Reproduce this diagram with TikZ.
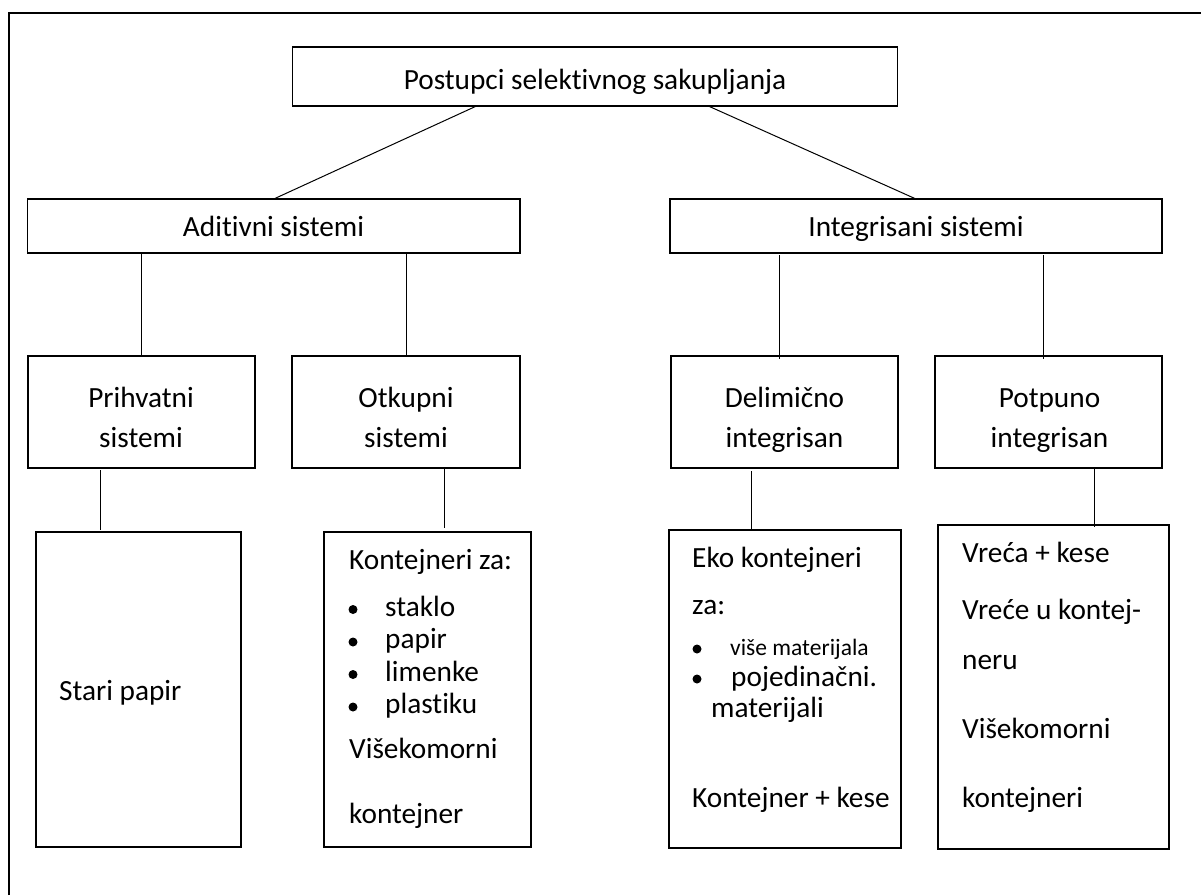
\documentclass[tikz,border=0pt]{standalone}
\usepackage{fontspec}
\setmainfont{Carlito}[Ligatures=NoCommon]
\usetikzlibrary{calc}
\begin{document}
\begin{tikzpicture}[x=1pt,y=-1pt,
  box/.style={draw, line width=1.3pt, rectangle, inner sep=0pt, outer sep=0pt},
  link/.style={line width=1pt},
  lbl/.style={anchor=base, inner sep=0pt, font=\fontsize{29.3}{34}\selectfont},
  lbll/.style={anchor=base west, inner sep=0pt, font=\fontsize{29.3}{34}\selectfont},
  small/.style={anchor=base west, inner sep=0pt, font=\fontsize{23.5}{28}\selectfont},
  dot/.style={circle, fill, inner sep=0pt, minimum size=9pt}]
\useasboundingbox (0,0) rectangle (1201,895);
% page frame (top and left edges)
\draw[line width=1.8pt] (9,895) -- (9,13) -- (1201,13);

% boxes
\node[box, minimum width=605pt, minimum height=59pt] (top) at (595,76.5) {};
\node[box, minimum width=492.5pt, minimum height=54pt] (add) at (273.75,226) {};
\node[box, minimum width=492pt, minimum height=54pt] (int) at (916,226) {};
\node[box, minimum width=227pt, minimum height=112pt] (pri) at (141.5,412) {};
\node[box, minimum width=228pt, minimum height=112pt] (otk) at (406,412) {};
\node[box, minimum width=227pt, minimum height=112pt] (del) at (784.5,412) {};
\node[box, minimum width=227pt, minimum height=112pt] (pot) at (1048.5,412) {};
\node[box, minimum width=205pt, minimum height=315pt] (sta) at (138.5,689.5) {};
\node[box, minimum width=207pt, minimum height=315pt] (kon) at (427.5,689.5) {};
\node[box, minimum width=232pt, minimum height=318pt] (eko) at (785,689) {};
\node[box, minimum width=231pt, minimum height=324pt] (vre) at (1053.5,687) {};

% connectors
\draw[link] ($(top.south)+(-118.5,0)$) -- (add.north);
\draw[link] ($(top.south)+(113.3,0)$) -- (int.north);
\draw[link] (add.south -| pri.north) -- (pri.north);
\draw[link] (add.south -| otk.north) -- (otk.north);
\draw[link] ($(int.south -| del.north)+(-5.5,2)$) -- ($(del.north)+(-5.5,3)$);
\draw[link] ($(int.south -| pot.north)+(-5.5,2)$) -- ($(pot.north)+(-5.5,3)$);
\draw[link] ($(pri.south)+(-41,2)$) -- ($(sta.north -| pri.south)+(-41,-2)$);
\draw[link] ($(otk.south)+(38,0)$) -- ($(kon.north -| otk.south)+(38,-4)$);
\draw[link] ($(del.south)+(-33.5,3)$) -- ($(eko.north -| del.south)+(-33.5,0)$);
\draw[link] ($(pot.south)+(45.5,0)$) -- ($(vre.north -| pot.south)+(45.5,2)$);

% labels
\node[lbl] (ttop) at (595,89) {Postupci selektivnog sakupljanja};
\node[lbl] (tadd) at (273.5,236) {Aditivni sistemi};
\node[lbl] (tint) at (916,236) {Integrisani sistemi};
\node[lbl] (tpri1) at (141,407) {Prihvatni};
\node[lbl] (tpri2) at (141,447) {sistemi};
\node[lbl] (totk1) at (406,407) {Otkupni};
\node[lbl] (totk2) at (406,447) {sistemi};
\node[lbl] (tdel1) at (784.5,407) {Delimično};
\node[lbl] (tdel2) at (784.5,447) {integrisan};
\node[lbl] (tpot1) at (1049.5,407) {Potpuno};
\node[lbl] (tpot2) at (1049.5,447) {integrisan};

\node[lbll] (tsta) at (59,700) {Stari papir};

\node[lbll] (tkon) at (349,569) {Kontejneri za:};
\node[dot] (b1) at (353,609.5) {};
\node[dot] (b2) at (353,642) {};
\node[dot] (b3) at (353,674.5) {};
\node[dot] (b4) at (353,707) {};
\node[lbll] (tk1) at (385,616) {staklo};
\node[lbll] (tk2) at (385,648.5) {papir};
\node[lbll] (tk3) at (385,681) {limenke};
\node[lbll] (tk4) at (385,713.5) {plastiku};
\node[lbll] (tk5) at (349,758) {Višekomorni};
\node[lbll] (tk6) at (349,823) {kontejner};

\node[lbll] (teko1) at (692,567) {Eko kontejneri};
\node[lbll] (teko2) at (692,614) {za:};
\node[dot] (e1) at (697,649) {};
\node[small] (teko3) at (730,655) {više materijala};
\node[dot] (e2) at (697,679) {};
\node[lbll] (teko4) at (731,686) {pojedinačni.};
\node[lbll] (teko5) at (711,717) {materijali};
\node[lbll] (teko6) at (692,807) {Kontejner + kese};

\node[lbll] (tvre1) at (962,562) {Vreća + kese};
\node[lbll] (tvre2) at (962,619) {Vreće u kontej-};
\node[lbll] (tvre3) at (962,669) {neru};
\node[lbll] (tvre4) at (962,738) {Višekomorni};
\node[lbll] (tvre5) at (962,807) {kontejneri};
\end{tikzpicture}
\end{document}
